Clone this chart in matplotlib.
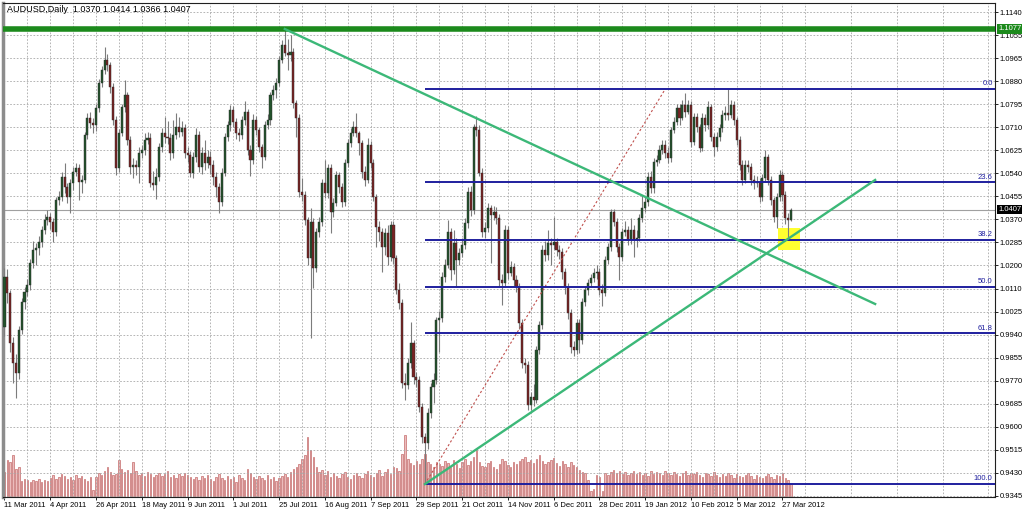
import numpy as np
import matplotlib
matplotlib.use('Agg')
import matplotlib.pyplot as plt
from matplotlib.patches import Rectangle

plt.rcParams['font.family'] = ['Liberation Sans', 'DejaVu Sans']

# AUDUSD daily bars, 11 Mar 2011 .. 30 Mar 2012
first_open = 0.9971
closes = [
    1.0157, 1.0098, 0.9912, 0.9838, 0.9801, 0.9960, 1.0064, 1.0101, 1.0127, 1.0209,
    1.0257, 1.0264, 1.0287, 1.0331, 1.0368, 1.0379, 1.0361, 1.0324, 1.0442, 1.0454,
    1.0528, 1.0491, 1.0454, 1.0506, 1.0546, 1.0561, 1.0509, 1.0517, 1.0684, 1.0747,
    1.0728, 1.0721, 1.0784, 1.0877, 1.0925, 1.0962, 1.0943, 1.0862, 1.0739, 1.0561,
    1.0691, 1.0787, 1.0832, 1.0665, 1.0565, 1.0572, 1.0565, 1.0617, 1.0628, 1.0665,
    1.0673, 1.0506, 1.0500, 1.0528, 1.0639, 1.0691, 1.0676, 1.0673, 1.0617, 1.0684,
    1.0713, 1.0695, 1.0710, 1.0617, 1.0610, 1.0543, 1.0602, 1.0684, 1.0565, 1.0617,
    1.0580, 1.0602, 1.0572, 1.0528, 1.0491, 1.0435, 1.0543, 1.0676, 1.0721, 1.0776,
    1.0732, 1.0691, 1.0684, 1.0739, 1.0769, 1.0628, 1.0591, 1.0739, 1.0702, 1.0639,
    1.0602, 1.0721, 1.0739, 1.0832, 1.0851, 1.0877, 1.0962, 1.1018, 1.0988, 1.0980,
    1.0992, 1.0802, 1.0747, 1.0472, 1.0461, 1.0368, 1.0227, 1.0361, 1.0190, 1.0324,
    1.0361, 1.0506, 1.0469, 1.0561, 1.0398, 1.0431, 1.0535, 1.0491, 1.0435, 1.0580,
    1.0654, 1.0691, 1.0713, 1.0691, 1.0654, 1.0546, 1.0517, 1.0647, 1.0580, 1.0454,
    1.0342, 1.0324, 1.0268, 1.0320, 1.0231, 1.0350, 1.0227, 1.0109, 1.0060, 0.9764,
    0.9756, 0.9838, 0.9912, 0.9786, 0.9775, 0.9675, 0.9563, 0.9541, 0.9652, 0.9749,
    0.9775, 0.9997, 1.0005, 1.0157, 1.0201, 1.0324, 1.0183, 1.0283, 1.0220, 1.0246,
    1.0275, 1.0357, 1.0472, 1.0405, 1.0713, 1.0702, 1.0543, 1.0324, 1.0339, 1.0413,
    1.0387, 1.0398, 1.0376, 1.0146, 1.0135, 1.0331, 1.0172, 1.0194, 1.0146, 1.0120,
    0.9986, 0.9838, 0.9830, 0.9682, 0.9712, 0.9701, 0.9886, 0.9979, 1.0257, 1.0238,
    1.0283, 1.0275, 1.0287, 1.0257, 1.0249, 1.0175, 1.0120, 1.0023, 0.9897, 0.9886,
    0.9986, 0.9923, 1.0064, 1.0109, 1.0135, 1.0153, 1.0172, 1.0175, 1.0109, 1.0098,
    1.0220, 1.0268, 1.0398, 1.0361, 1.0268, 1.0231, 1.0324, 1.0331, 1.0294, 1.0331,
    1.0294, 1.0302, 1.0376, 1.0413, 1.0435, 1.0528, 1.0487, 1.0583, 1.0591, 1.0628,
    1.0647, 1.0617, 1.0598, 1.0702, 1.0732, 1.0784, 1.0747, 1.0795, 1.0769, 1.0795,
    1.0658, 1.0750, 1.0713, 1.0636, 1.0747, 1.0721, 1.0787, 1.0676, 1.0639, 1.0676,
    1.0710, 1.0758, 1.0765, 1.0758, 1.0795, 1.0739, 1.0665, 1.0572, 1.0517, 1.0572,
    1.0565, 1.0517, 1.0506, 1.0509, 1.0454, 1.0524, 1.0602, 1.0517, 1.0442, 1.0379,
    1.0454, 1.0535, 1.0461, 1.0376, 1.0370, 1.0407,
]
highs = [
    1.0190, 1.0185, 1.0110, 0.9935, 0.9870, 0.9975, 1.0080, 1.0120, 1.0150, 1.0225,
    1.0290, 1.0285, 1.0310, 1.0345, 1.0390, 1.0405, 1.0395, 1.0375, 1.0455, 1.0475,
    1.0545, 1.0580, 1.0505, 1.0520, 1.0565, 1.0580, 1.0575, 1.0535, 1.0695, 1.0765,
    1.0770, 1.0745, 1.0800, 1.0890, 1.0940, 1.1010, 1.0985, 1.0955, 1.0875, 1.0755,
    1.0705, 1.0800, 1.0888, 1.0845, 1.0680, 1.0600, 1.0590, 1.0640, 1.0645, 1.0690,
    1.0695, 1.0690, 1.0550, 1.0560, 1.0655, 1.0710, 1.0750, 1.0735, 1.0690, 1.0740,
    1.0765, 1.0750, 1.0735, 1.0725, 1.0640, 1.0625, 1.0620, 1.0710, 1.0700, 1.0640,
    1.0665, 1.0630, 1.0625, 1.0590, 1.0545, 1.0505, 1.0560, 1.0690, 1.0735, 1.0795,
    1.0790, 1.0745, 1.0710, 1.0755, 1.0810, 1.0780, 1.0645, 1.0760, 1.0755, 1.0715,
    1.0650, 1.0735, 1.0760, 1.0845, 1.0870, 1.0895, 1.0975, 1.1035, 1.1077, 1.1040,
    1.1055, 1.1005, 1.0815, 1.0760, 1.0524, 1.0475, 1.0380, 1.0413, 1.0375, 1.0340,
    1.0380, 1.0520, 1.0590, 1.0575, 1.0575, 1.0450, 1.0550, 1.0545, 1.0505, 1.0595,
    1.0670, 1.0710, 1.0735, 1.0765, 1.0700, 1.0665, 1.0570, 1.0672, 1.0660, 1.0595,
    1.0465, 1.0365, 1.0340, 1.0340, 1.0350, 1.0365, 1.0365, 1.0240, 1.0135, 1.0075,
    0.9800, 0.9855, 0.9990, 0.9925, 0.9805, 0.9790, 0.9690, 0.9580, 0.9670, 0.9765,
    0.9800, 1.0010, 1.0030, 1.0175, 1.0225, 1.0368, 1.0340, 1.0330, 1.0300, 1.0265,
    1.0300, 1.0375, 1.0490, 1.0495, 1.0725, 1.0755, 1.0720, 1.0560, 1.0360, 1.0430,
    1.0425, 1.0420, 1.0415, 1.0390, 1.0170, 1.0350, 1.0345, 1.0215, 1.0210, 1.0165,
    1.0135, 1.0000, 0.9855, 0.9845, 0.9730, 0.9760, 0.9900, 0.9995, 1.0275, 1.0290,
    1.0331, 1.0300, 1.0379, 1.0300, 1.0275, 1.0265, 1.0190, 1.0135, 1.0040, 0.9920,
    1.0000, 1.0000, 1.0080, 1.0125, 1.0150, 1.0170, 1.0190, 1.0200, 1.0190, 1.0130,
    1.0235, 1.0285, 1.0410, 1.0410, 1.0375, 1.0285, 1.0340, 1.0365, 1.0345, 1.0376,
    1.0350, 1.0330, 1.0390, 1.0460, 1.0455, 1.0545, 1.0550, 1.0600, 1.0610, 1.0645,
    1.0665, 1.0665, 1.0640, 1.0715, 1.0750, 1.0800, 1.0800, 1.0815, 1.0839, 1.0815,
    1.0810, 1.0765, 1.0765, 1.0725, 1.0765, 1.0760, 1.0810, 1.0800, 1.0690, 1.0695,
    1.0725, 1.0775, 1.0790, 1.0854, 1.0815, 1.0810, 1.0750, 1.0680, 1.0590, 1.0590,
    1.0590, 1.0580, 1.0535, 1.0530, 1.0525, 1.0540, 1.0628, 1.0615, 1.0530, 1.0455,
    1.0470, 1.0555, 1.0550, 1.0475, 1.0395, 1.0414,
]
lows = [
    0.9940, 1.0060, 0.9880, 0.9764, 0.9708, 0.9780, 0.9945, 1.0040, 1.0085, 1.0110,
    1.0190, 1.0201, 1.0240, 1.0270, 1.0315, 1.0350, 1.0335, 1.0287, 1.0310, 1.0425,
    1.0440, 1.0470, 1.0430, 1.0394, 1.0480, 1.0530, 1.0442, 1.0470, 1.0505, 1.0670,
    1.0710, 1.0690, 1.0700, 1.0770, 1.0860, 1.0910, 1.0920, 1.0840, 1.0720, 1.0535,
    1.0545, 1.0680, 1.0770, 1.0645, 1.0540, 1.0525, 1.0535, 1.0506, 1.0600, 1.0610,
    1.0650, 1.0490, 1.0480, 1.0445, 1.0515, 1.0620, 1.0655, 1.0650, 1.0591, 1.0600,
    1.0670, 1.0675, 1.0680, 1.0600, 1.0585, 1.0528, 1.0525, 1.0585, 1.0545, 1.0540,
    1.0555, 1.0560, 1.0540, 1.0500, 1.0454, 1.0394, 1.0420, 1.0530, 1.0660, 1.0700,
    1.0715, 1.0670, 1.0660, 1.0670, 1.0720, 1.0610, 1.0530, 1.0575, 1.0685, 1.0620,
    1.0560, 1.0590, 1.0705, 1.0720, 1.0815, 1.0820, 1.0865, 1.0950, 1.0975, 1.0925,
    1.0960, 1.0785, 1.0676, 1.0455, 1.0440, 1.0350, 1.0200, 0.9931, 1.0116, 1.0175,
    1.0305, 1.0345, 1.0450, 1.0450, 1.0320, 1.0380, 1.0420, 1.0470, 1.0415, 1.0420,
    1.0565, 1.0640, 1.0680, 1.0675, 1.0610, 1.0525, 1.0495, 1.0505, 1.0560, 1.0440,
    1.0270, 1.0290, 1.0175, 1.0240, 1.0200, 1.0215, 1.0205, 1.0095, 1.0040, 0.9745,
    0.9701, 0.9740, 0.9820, 0.9760, 0.9750, 0.9655, 0.9540, 0.9389, 0.9520, 0.9635,
    0.9690, 0.9760, 0.9880, 0.9990, 1.0140, 1.0190, 1.0146, 1.0170, 1.0120, 1.0200,
    1.0230, 1.0260, 1.0340, 1.0385, 1.0390, 1.0680, 1.0530, 1.0305, 1.0300, 1.0325,
    1.0210, 1.0370, 1.0355, 1.0125, 1.0053, 1.0120, 1.0150, 1.0160, 1.0125, 1.0100,
    0.9965, 0.9820, 0.9800, 0.9663, 0.9665, 0.9680, 0.9690, 0.9870, 0.9965, 1.0215,
    1.0220, 1.0201, 1.0260, 1.0235, 1.0225, 1.0150, 1.0095, 1.0000, 0.9875, 0.9864,
    0.9870, 0.9875, 0.9910, 1.0050, 1.0090, 1.0120, 1.0140, 1.0150, 1.0090, 1.0049,
    1.0085, 1.0205, 1.0255, 1.0345, 1.0250, 1.0146, 1.0215, 1.0310, 1.0275, 1.0280,
    1.0231, 1.0270, 1.0290, 1.0360, 1.0400, 1.0420, 1.0470, 1.0470, 1.0570, 1.0580,
    1.0615, 1.0600, 1.0580, 1.0585, 1.0690, 1.0720, 1.0720, 1.0740, 1.0750, 1.0760,
    1.0640, 1.0645, 1.0695, 1.0620, 1.0625, 1.0700, 1.0705, 1.0660, 1.0605, 1.0625,
    1.0660, 1.0695, 1.0740, 1.0740, 1.0745, 1.0720, 1.0645, 1.0555, 1.0500, 1.0505,
    1.0545, 1.0500, 1.0485, 1.0490, 1.0435, 1.0440, 1.0510, 1.0500, 1.0425, 1.0360,
    1.0340, 1.0440, 1.0440, 1.0355, 1.0305, 1.0366,
]
# tick volume (thousands)
volumes = [
    25, 37, 35, 42, 28, 30,
    16, 18, 17, 15, 17, 16, 18, 15, 17, 16,
    19, 22, 18, 20, 23, 21, 18, 20, 17, 22, 19, 21, 18, 16, 20, 7,
    20, 24, 22, 26, 30, 25, 22, 23, 37, 28, 25, 27, 24, 35, 26,
    22, 24, 21, 25, 23, 20, 22, 24, 21, 23, 26, 20, 22, 19, 23, 21, 24, 22, 20,
    18, 20, 17, 21, 19, 22, 18, 16, 20, 23, 19, 17, 21, 18, 20, 15, 22, 19, 17, 28,
    24, 20, 18, 21, 19, 17, 22, 18, 20, 16, 19, 21, 23, 20, 25, 28, 30, 33, 38,
    42, 60, 47, 40, 30, 25, 27,
    22, 26, 20, 24, 21, 19, 23, 25, 20, 18, 22, 24, 21, 19, 23, 26, 22, 20, 24, 27,
    21, 25, 28, 23, 30, 29, 26,
    43, 62, 38, 34, 32, 36, 33, 38, 43, 35, 33, 30,
    35, 33, 31, 36, 34, 30, 37, 33, 29, 35, 38, 32, 36, 40, 48, 35, 31, 30, 34, 36,
    30, 28, 33, 38, 36, 32, 30, 35,
    33, 36, 38, 40, 35, 37, 34, 38, 42, 36, 33, 35, 37, 39, 34, 31, 36, 33, 30, 35,
    32, 30, 27, 25, 24, 17,
    6, 8, 22, 20, 6, 24, 22,
    25, 27, 24, 26, 23, 25, 22, 24, 26, 23, 25, 22, 24, 21, 26, 23, 25, 24, 22, 26,
    24, 22, 25, 23, 21, 24, 26, 22, 24, 23, 25, 22, 20, 24, 23, 21, 25, 22, 20, 23,
    21, 24, 22, 19, 23, 21, 20, 22, 24, 21, 18, 22, 20, 19, 21, 23, 20, 18, 22, 21,
    24, 19, 17, 13,
]

date_labels = ['11 Mar 2011', '4 Apr 2011', '26 Apr 2011', '18 May 2011', '9 Jun 2011',
               '1 Jul 2011', '25 Jul 2011', '16 Aug 2011', '7 Sep 2011', '29 Sep 2011',
               '21 Oct 2011', '14 Nov 2011', '6 Dec 2011', '28 Dec 2011', '19 Jan 2012',
               '10 Feb 2012', '5 Mar 2012', '27 Mar 2012']
price_labels = ['0.9345', '0.9430', '0.9515', '0.9600', '0.9685', '0.9770', '0.9855',
                '0.9940', '1.0025', '1.0110', '1.0200', '1.0285', '1.0370', '1.0455',
                '1.0540', '1.0625', '1.0710', '1.0795', '1.0880', '1.0965', '1.1055',
                '1.1140']

# fibonacci retracement drawn from the Oct low to the Feb high
fib_low, fib_high = 0.9389, 1.0854
fib_start, fib_end = 147, 231
fib_levels = [0.0, 23.6, 38.2, 50.0, 61.8, 100.0]
# trendline anchors (bar, price)
resist_level = 1.1077
down_line = [(98, 1.1077), (304.4, 1.0057)]
up_line = [(147, 0.9389), (304.4, 1.0517)]
last_price = 1.0407

x = np.arange(len(closes))
o = np.array([first_open] + closes[:-1])
c = np.array(closes)
xlim = (-0.52, 346.3)
ylim = (0.93411, 1.11734)

fig = plt.figure(figsize=(10.24, 5.11), dpi=100)
rect = [3 / 1024, 14 / 511, 992 / 1024, 494 / 511]

# volumes in a background axes so the lines sit on top of them
axv = fig.add_axes(rect)
axv.bar(x, volumes, width=0.5, color='#ecbcbc', edgecolor='#c06060', linewidth=0.45)
axv.set_xlim(xlim)
axv.set_ylim(0, 494)
axv.axis('off')

ax = fig.add_axes(rect)
ax.set_facecolor('none')
ax.set_xlim(xlim)
ax.set_ylim(ylim)

# grid
ax.set_xticks(np.arange(0, len(date_labels) * 16, 16))
ax.set_xticklabels(date_labels, fontsize=5.5)
for lbl in ax.get_xticklabels():
    lbl.set_ha('left')
ax.set_xticks(np.arange(8, 347, 16), minor=True)
ax.set_yticks(np.linspace(0.9345, 1.1140, len(price_labels)))
ax.set_yticklabels(price_labels, fontsize=5.5)
ax.yaxis.tick_right()
ax.tick_params(axis='both', which='both', length=2.5, width=0.6, pad=1)
ax.tick_params(axis='x', which='minor', length=0)
ax.grid(True, which='both', color='#a8a8a8', linestyle=(0, (2, 2)), linewidth=0.6)
ax.set_axisbelow(True)
for s in ax.spines.values():
    s.set_color('#202020')
    s.set_linewidth(0.8)
ax.spines['left'].set_color('#8c8c8c')
ax.spines['left'].set_linewidth(2.5)

# highlight box near the trendline touch
ax.add_patch(Rectangle((270.5, 1.0257), 7.7, 0.0082, facecolor='#ffff30', edgecolor='none', zorder=2))

# candles
ax.vlines(x, lows, highs, color='#7c7c7c', linewidth=0.8, zorder=3)
body_bottom = np.minimum(o, c)
body_height = np.maximum(np.abs(c - o), 0.0003)
body_colors = np.where(c >= o, '#23532c', '#7a2323')
ax.bar(x, body_height, bottom=body_bottom, width=0.72, color=body_colors,
       edgecolor='#2a2a2a', linewidth=0.3, zorder=4)

# current price line
ax.axhline(last_price, color='#a0a0a0', linewidth=0.8, zorder=2)

# fibonacci
fib_blue = '#1f1f9e'
ax.plot([fib_start, fib_end], [fib_low, fib_high], color='#c0504d',
        linestyle=(0, (2, 2)), linewidth=0.8, zorder=5)
for lev in fib_levels:
    p = fib_high - lev / 100 * (fib_high - fib_low)
    ax.hlines(p, fib_start, xlim[1], color=fib_blue, linewidth=1.4, zorder=5)
    ax.text(xlim[1] - 0.8, p + 0.0006, '%.1f' % lev, color=fib_blue, fontsize=5.5,
            ha='right', va='bottom', zorder=6)

# trendlines
ax.axhline(resist_level, color='#1c8a1c', linewidth=4, zorder=5)
ax.plot(*zip(*down_line), color='#3cb878', linewidth=1.7, zorder=5)
ax.plot(*zip(*up_line), color='#3cb878', linewidth=1.7, zorder=5)

# price tags on the scale
tr = ax.get_yaxis_transform()
ax.text(1.003, resist_level, '1.1077', transform=tr, fontsize=5.5, color='white',
        ha='left', va='center', zorder=10, clip_on=False,
        bbox=dict(boxstyle='square,pad=0.15', fc='#1c8a1c', ec='none'))
ax.text(1.003, last_price, '1.0407', transform=tr, fontsize=5.5, color='white',
        ha='left', va='center', zorder=10, clip_on=False,
        bbox=dict(boxstyle='square,pad=0.15', fc='black', ec='none'))

fig.text(7 / 1024, 1 - 9 / 511, 'AUDUSD,Daily  1.0370 1.0414 1.0366 1.0407',
         fontsize=6.5, va='center', ha='left')

fig.savefig('out.png', dpi=100)
